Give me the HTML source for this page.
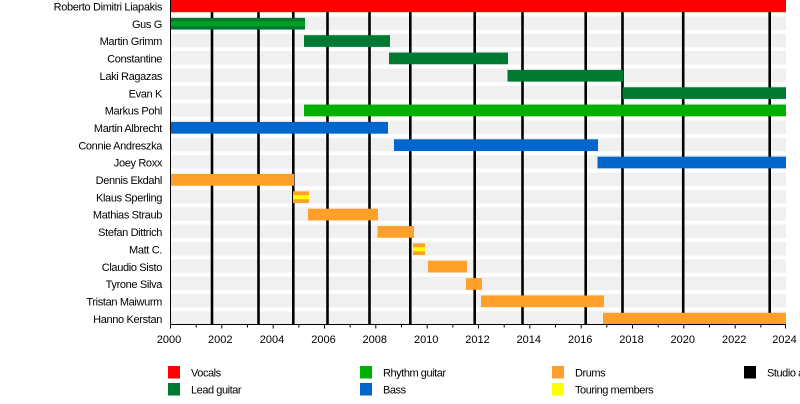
<!DOCTYPE html>
<html>
<head>
<meta charset="utf-8">
<style>
html,body{margin:0;padding:0;background:#fff;}
svg{display:block;}
text{font-family:"Liberation Sans",Arial,sans-serif;fill:#000;}
.lbl{font-size:11px;letter-spacing:-0.35px;}
.tk{font-size:11px;}
.lg{font-size:11px;letter-spacing:-0.45px;}
</style>
</head>
<body>
<svg width="800" height="404" viewBox="0 0 800 404" xmlns="http://www.w3.org/2000/svg">
<rect x="0" y="0" width="800" height="404" fill="#fff"/>
<!-- gray row bands -->
<g fill="#f0f0f0">
<rect x="171" y="-1" width="615" height="13.6"/>
<rect x="171" y="16.35" width="615" height="13.6"/>
<rect x="171" y="33.7" width="615" height="13.6"/>
<rect x="171" y="51.05" width="615" height="13.6"/>
<rect x="171" y="68.4" width="615" height="13.6"/>
<rect x="171" y="85.75" width="615" height="13.6"/>
<rect x="171" y="103.1" width="615" height="13.6"/>
<rect x="171" y="120.45" width="615" height="13.6"/>
<rect x="171" y="137.8" width="615" height="13.6"/>
<rect x="171" y="155.15" width="615" height="13.6"/>
<rect x="171" y="172.5" width="615" height="13.6"/>
<rect x="171" y="189.85" width="615" height="13.6"/>
<rect x="171" y="207.2" width="615" height="13.6"/>
<rect x="171" y="224.55" width="615" height="13.6"/>
<rect x="171" y="241.9" width="615" height="13.6"/>
<rect x="171" y="259.25" width="615" height="13.6"/>
<rect x="171" y="276.6" width="615" height="13.6"/>
<rect x="171" y="293.95" width="615" height="13.6"/>
<rect x="171" y="311.3" width="615" height="13"/>
</g>
<!-- studio album lines -->
<g stroke="#000" stroke-width="2.6">
<line x1="212" y1="0" x2="212" y2="324"/>
<line x1="258.5" y1="0" x2="258.5" y2="324"/>
<line x1="293.3" y1="0" x2="293.3" y2="324"/>
<line x1="327.5" y1="0" x2="327.5" y2="324"/>
<line x1="369.5" y1="0" x2="369.5" y2="324"/>
<line x1="410.3" y1="0" x2="410.3" y2="324"/>
<line x1="474.7" y1="0" x2="474.7" y2="324"/>
<line x1="522.5" y1="0" x2="522.5" y2="324"/>
<line x1="585.7" y1="0" x2="585.7" y2="324"/>
<line x1="622.5" y1="0" x2="622.5" y2="324"/>
<line x1="683.2" y1="0" x2="683.2" y2="324"/>
<line x1="769.7" y1="0" x2="769.7" y2="324"/>
</g>
<!-- bars -->
<!-- 0 Roberto -->
<rect x="170" y="0" width="616" height="12.2" fill="#ff0000"/>
<!-- 1 Gus G -->
<rect x="170" y="17.85" width="135" height="11.7" fill="#007a33"/>
<rect x="170" y="21.2" width="135" height="5" fill="#00a020"/>
<!-- 2 Martin Grimm -->
<rect x="304" y="35.2" width="86" height="11.7" fill="#007a33"/>
<!-- 3 Constantine -->
<rect x="389" y="52.55" width="119" height="11.7" fill="#007a33"/>
<!-- 4 Laki -->
<rect x="507.5" y="69.9" width="115.5" height="11.7" fill="#007a33"/>
<!-- 5 Evan K -->
<rect x="622.5" y="87.25" width="163.5" height="11.7" fill="#007a33"/>
<!-- 6 Markus Pohl -->
<rect x="304" y="104.6" width="482" height="11.7" fill="#00b000"/>
<!-- 7 Martin Albrecht -->
<rect x="170" y="121.95" width="218" height="11.7" fill="#0066cc"/>
<!-- 8 Connie -->
<rect x="394" y="139.3" width="204" height="11.7" fill="#0066cc"/>
<!-- 9 Joey -->
<rect x="597.5" y="156.65" width="188.5" height="11.7" fill="#0066cc"/>
<!-- 10 Dennis -->
<rect x="170" y="174" width="124" height="11.7" fill="#ffa02a"/>
<!-- 11 Klaus -->
<rect x="293" y="191.35" width="16" height="11.7" fill="#ffa02a"/>
<rect x="293" y="195.2" width="16" height="4" fill="#ffff00"/>
<!-- 12 Mathias -->
<rect x="308" y="208.7" width="70" height="11.7" fill="#ffa02a"/>
<!-- 13 Stefan -->
<rect x="377.5" y="226.05" width="36.5" height="11.7" fill="#ffa02a"/>
<!-- 14 Matt C. -->
<rect x="413" y="243.4" width="12" height="11.7" fill="#ffa02a"/>
<rect x="413" y="247.25" width="12" height="4" fill="#ffff00"/>
<!-- 15 Claudio -->
<rect x="428" y="260.75" width="39" height="11.7" fill="#ffa02a"/>
<!-- 16 Tyrone -->
<rect x="466" y="278.1" width="16" height="11.7" fill="#ffa02a"/>
<!-- 17 Tristan -->
<rect x="481" y="295.45" width="123" height="11.7" fill="#ffa02a"/>
<!-- 18 Hanno -->
<rect x="603" y="312.8" width="183" height="11.7" fill="#ffa02a"/>

<!-- axes -->
<line x1="170.5" y1="0" x2="170.5" y2="324.5" stroke="#000" stroke-width="1"/>
<line x1="170" y1="324.5" x2="786" y2="324.5" stroke="#000" stroke-width="1"/>
<g stroke="#000" stroke-width="1">
<line x1="170.5" y1="324" x2="170.5" y2="328.5"/>
<line x1="196.2" y1="324" x2="196.2" y2="327.5"/>
<line x1="221.8" y1="324" x2="221.8" y2="328.5"/>
<line x1="247.5" y1="324" x2="247.5" y2="327.5"/>
<line x1="273.2" y1="324" x2="273.2" y2="328.5"/>
<line x1="298.8" y1="324" x2="298.8" y2="327.5"/>
<line x1="324.5" y1="324" x2="324.5" y2="328.5"/>
<line x1="350.2" y1="324" x2="350.2" y2="327.5"/>
<line x1="375.8" y1="324" x2="375.8" y2="328.5"/>
<line x1="401.5" y1="324" x2="401.5" y2="327.5"/>
<line x1="427.2" y1="324" x2="427.2" y2="328.5"/>
<line x1="452.8" y1="324" x2="452.8" y2="327.5"/>
<line x1="478.5" y1="324" x2="478.5" y2="328.5"/>
<line x1="504.2" y1="324" x2="504.2" y2="327.5"/>
<line x1="529.8" y1="324" x2="529.8" y2="328.5"/>
<line x1="555.5" y1="324" x2="555.5" y2="327.5"/>
<line x1="581.2" y1="324" x2="581.2" y2="328.5"/>
<line x1="606.8" y1="324" x2="606.8" y2="327.5"/>
<line x1="632.5" y1="324" x2="632.5" y2="328.5"/>
<line x1="658.2" y1="324" x2="658.2" y2="327.5"/>
<line x1="683.8" y1="324" x2="683.8" y2="328.5"/>
<line x1="709.5" y1="324" x2="709.5" y2="327.5"/>
<line x1="735.2" y1="324" x2="735.2" y2="328.5"/>
<line x1="760.8" y1="324" x2="760.8" y2="327.5"/>
<line x1="785.5" y1="324" x2="785.5" y2="328.5"/>
</g>
<g class="tk" text-anchor="middle">
<text x="169" y="343">2000</text>
<text x="220.3" y="343">2002</text>
<text x="272" y="343">2004</text>
<text x="323.5" y="343">2006</text>
<text x="374.8" y="343">2008</text>
<text x="426.2" y="343">2010</text>
<text x="477.5" y="343">2012</text>
<text x="528.8" y="343">2014</text>
<text x="580.2" y="343">2016</text>
<text x="631.5" y="343">2018</text>
<text x="682.8" y="343">2020</text>
<text x="734.2" y="343">2022</text>
<text x="784.5" y="343">2024</text>
</g>

<!-- row labels -->
<g class="lbl" text-anchor="end">
<text x="162" y="10.5">Roberto Dimitri Liapakis</text>
<text x="162" y="27.85">Gus G</text>
<text x="162" y="45.2">Martin Grimm</text>
<text x="162" y="62.55">Constantine</text>
<text x="162" y="79.9">Laki Ragazas</text>
<text x="162" y="97.25">Evan K</text>
<text x="162" y="114.6">Markus Pohl</text>
<text x="162" y="131.95">Martin Albrecht</text>
<text x="162" y="149.3">Connie Andreszka</text>
<text x="162" y="166.65">Joey Roxx</text>
<text x="162" y="184">Dennis Ekdahl</text>
<text x="162" y="201.35">Klaus Sperling</text>
<text x="162" y="218.7">Mathias Straub</text>
<text x="162" y="236.05">Stefan Dittrich</text>
<text x="162" y="253.4">Matt C.</text>
<text x="162" y="270.75">Claudio Sisto</text>
<text x="162" y="288.1">Tyrone Silva</text>
<text x="162" y="305.45">Tristan Maiwurm</text>
<text x="162" y="322.8">Hanno Kerstan</text>
</g>

<!-- legend -->
<rect x="168" y="366" width="12" height="12.5" fill="#ff0000"/>
<rect x="168" y="383" width="12" height="12.5" fill="#007a33"/>
<rect x="360" y="366" width="12" height="12.5" fill="#00b000"/>
<rect x="360" y="383" width="12" height="12.5" fill="#0066cc"/>
<rect x="552" y="366" width="12" height="12.5" fill="#ffa02a"/>
<rect x="552" y="383" width="12" height="12.5" fill="#ffff00"/>
<rect x="744" y="366" width="12" height="12.5" fill="#000"/>
<g class="lg">
<text x="191" y="376.5">Vocals</text>
<text x="191" y="393.5">Lead guitar</text>
<text x="383" y="376.5">Rhythm guitar</text>
<text x="383" y="393.5">Bass</text>
<text x="575" y="376.5">Drums</text>
<text x="575" y="393.5">Touring members</text>
<text x="767" y="376.5">Studio albums</text>
</g>
</svg>
</body>
</html>
